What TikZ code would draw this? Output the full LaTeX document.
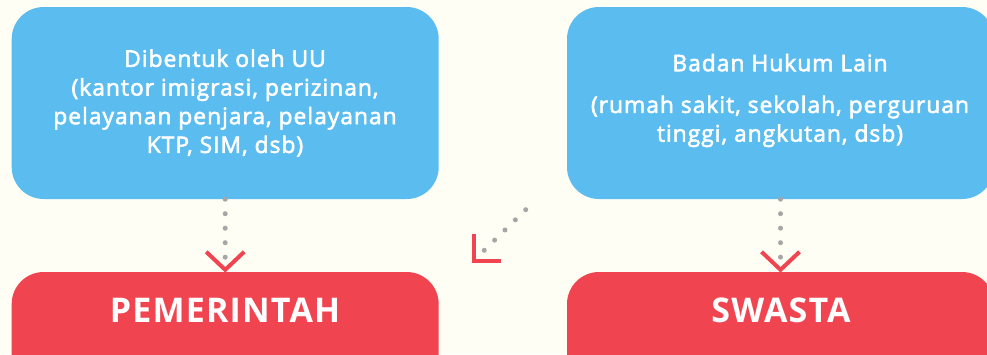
\documentclass[tikz,border=0pt]{standalone}
\usepackage{fontspec}
\setmainfont{Open Sans}
\newfontfamily\bodyfont{Open Sans}[FakeBold=2.5, LetterSpace=4.4]
\newfontfamily\titlefont{Open Sans}[LetterSpace=3.5]
\usetikzlibrary{calc}
\definecolor{bgcol}{RGB}{255,254,244}
\definecolor{boxblue}{RGB}{91,188,240}
\definecolor{boxred}{RGB}{240,69,80}
\definecolor{dotgray}{RGB}{166,166,166}
\begin{document}
\begin{tikzpicture}[x=1pt,y=-1pt,
  bluebox/.style={fill=boxblue, rounded corners=32pt, minimum width=427pt, minimum height=192pt, inner sep=0pt},
  redbox/.style={fill=boxred, rounded corners=32pt, minimum width=427pt, minimum height=130pt, inner sep=0pt},
  bodytext/.style={text=white, align=center, inner sep=0pt, font=\fontsize{22.8}{28.7}\bodyfont},
  titletext/.style={text=white, inner sep=0pt, font=\fontsize{34}{38}\titlefont\bfseries},
  dotline/.style={draw=dotgray, line width=5pt, line cap=round, dash pattern=on 0pt off 14.5pt},
  chev/.style={draw=boxred, line width=4pt, line cap=butt, line join=miter}]
\useasboundingbox (0,0) rectangle (987,354);
\clip (0,0) rectangle (987,354);
\fill[bgcol] (0,0) rectangle (987,354);
% boxes
\node[bluebox] (lb) at (225.2,103) {};
\node[bluebox] (rb) at (780.5,103) {};
\node[redbox] (lr) at (225.2,337) {};
\node[redbox] (rr) at (780.5,337) {};
% texts
\node[bodytext] (lbt) at (225,103) {Dibentuk oleh UU\\(kantor imigrasi, perizinan,\\pelayanan penjara, pelayanan\\KTP, SIM, dsb)};
\node[bodytext] (rbt) at (780,100.5) {Badan Hukum Lain\\[13pt](rumah sakit, sekolah, perguruan\\tinggi, angkutan, dsb)};
\node[titletext, anchor=base] (lrt) at (225,322) {PEMERINTAH};
\node[titletext, anchor=base] (rrt) at (781,322) {SWASTA};
% connectors
\draw[dotline] (lb.south) -- ($(lr.north)+(0,-14)$);
\draw[chev] ($(lr.north)+(-19,-20)$) -- ($(lr.north)+(0,-2)$) -- ($(lr.north)+(19,-20)$);
\draw[dotline] (rb.south) -- ($(rr.north)+(0,-14)$);
\draw[chev] ($(rr.north)+(-19,-20)$) -- ($(rr.north)+(0,-2)$) -- ($(rr.north)+(19,-20)$);
% diagonal
\coordinate (ds) at (525.7,209.7);
\coordinate (de) at (473.5,261);
\draw[dotline] (ds) -- ($(de)+(10.3,-10.3)$);
\draw[chev] ($(de)+(0,-27)$) -- (de) -- ($(de)+(27,0)$);
\end{tikzpicture}
\end{document}
